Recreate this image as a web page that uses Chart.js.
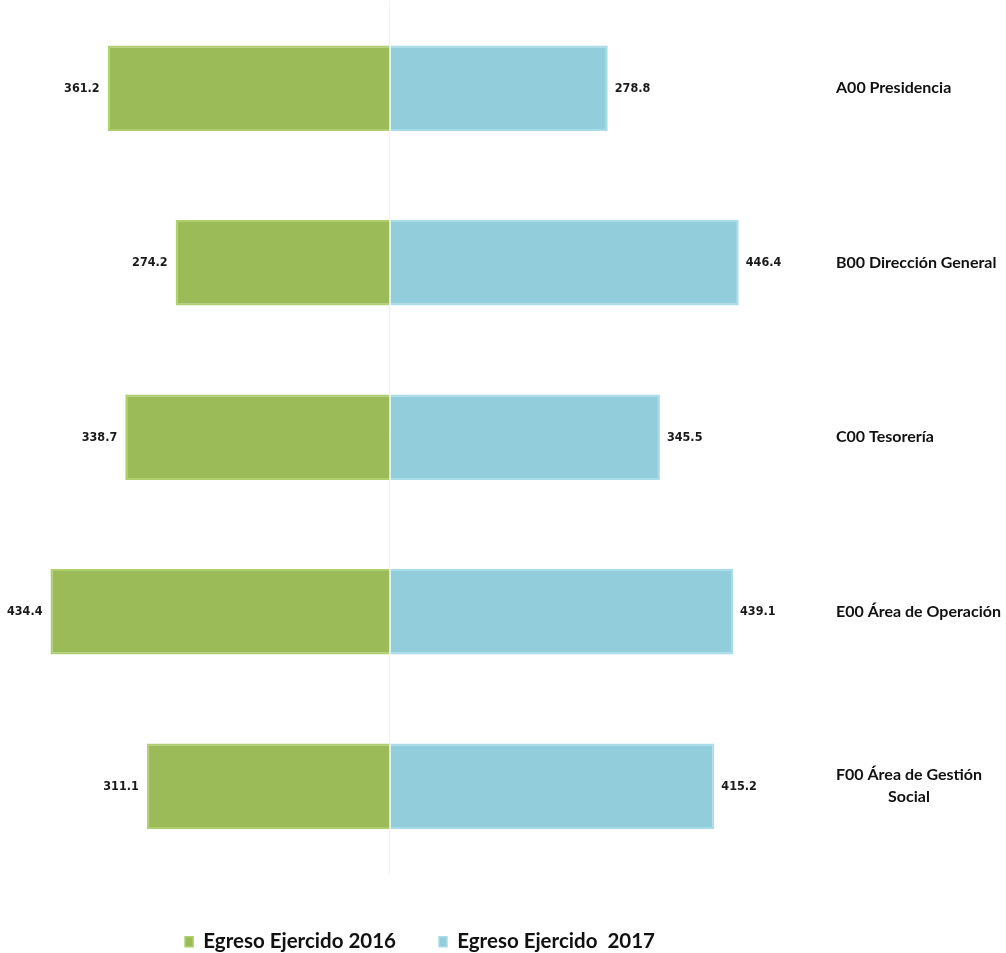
<!DOCTYPE html>
<html>
<head>
<meta charset="utf-8">
<script src="https://cdn.jsdelivr.net/npm/chart.js@4"></script>
<style>
  html, body { margin: 0; padding: 0; background: #ffffff; }
  #wrap { width: 1006px; height: 953px; position: relative; }
</style>
</head>
<body>
<div id="wrap"><canvas id="c" width="1006" height="953"></canvas></div>
<script>
const categories = [
  ["A00 Presidencia"],
  ["B00 Dirección General"],
  ["C00 Tesorería"],
  ["E00 Área de Operación"],
  ["F00 Área de Gestión", "Social"]
];
const seriesNames = ["Egreso Ejercido 2016", "Egreso Ejercido  2017"];
const egreso2016 = [361.2, 274.2, 338.7, 434.4, 311.1];
const egreso2017 = [278.8, 446.4, 345.5, 439.1, 415.2];

const GREEN = '#9BBB59';
const BLUE = '#92CDDC';

const valueLabels = {
  id: 'valueLabels',
  afterDatasetsDraw(chart) {
    const ctx = chart.ctx;
    ctx.save();
    ctx.font = "bold 12.5px 'Arial Narrow', 'Liberation Sans Narrow', 'DejaVu Sans Condensed', sans-serif";
    ctx.fillStyle = '#1a1a1a';
    ctx.textBaseline = 'middle';
    chart.data.datasets.forEach((ds, di) => {
      const meta = chart.getDatasetMeta(di);
      meta.data.forEach((bar, i) => {
        const v = Math.abs(ds.data[i]).toFixed(1);
        if (ds.data[i] < 0) {
          ctx.textAlign = 'right';
          ctx.fillText(v, bar.x - 8, bar.y);
        } else {
          ctx.textAlign = 'left';
          ctx.fillText(v, bar.x + 7, bar.y);
        }
      });
    });
    ctx.restore();
  }
};

const categoryLabels = {
  id: 'categoryLabels',
  afterDraw(chart) {
    const ctx = chart.ctx;
    const y = chart.scales.y;
    ctx.save();
    ctx.font = "bold 16px Lato, 'Open Sans', sans-serif";
    ctx.fillStyle = '#111111';
    ctx.textBaseline = 'middle';
    ctx.textAlign = 'center';
    const left = 836;
    const lineH = 22;
    chart.data.labels.forEach((lab, i) => {
      const lines = Array.isArray(lab) ? lab : [lab];
      const widest = Math.max(...lines.map(l => ctx.measureText(l).width));
      const cy = y.getPixelForValue(i);
      const start = cy - (lines.length - 1) * lineH / 2;
      lines.forEach((l, k) => {
        ctx.fillText(l, left + widest / 2, start + k * lineH);
      });
    });
    ctx.restore();
  }
};

new Chart(document.getElementById('c'), {
  type: 'bar',
  data: {
    labels: categories,
    datasets: [
      {
        label: seriesNames[0],
        data: egreso2016.map(v => -v),
        backgroundColor: GREEN,
        borderColor: '#AFCF6C',
        borderWidth: {top: 2, bottom: 2, left: 2, right: 0},
        borderSkipped: false,
        barPercentage: 0.49,
        categoryPercentage: 1
      },
      {
        label: seriesNames[1],
        data: egreso2017,
        backgroundColor: BLUE,
        borderColor: '#A9DCE9',
        borderWidth: {top: 2, bottom: 2, left: 0, right: 2},
        borderSkipped: false,
        barPercentage: 0.49,
        categoryPercentage: 1
      }
    ]
  },
  options: {
    indexAxis: 'y',
    responsive: false,
    animation: false,
    layout: { padding: { top: 1, left: 0, right: 166, bottom: -9 } },
    scales: {
      x: {
        stacked: true,
        min: -499,
        max: 576,
        display: true,
        afterFit: (s) => { s.height = 15; },
        ticks: { display: false, stepSize: 100 },
        border: { display: false },
        grid: {
          drawTicks: false,
          color: (c) => (c.tick && c.tick.value === 0) ? '#f2f2f2' : 'rgba(0,0,0,0)'
        }
      },
      y: {
        stacked: true,
        display: false
      }
    },
    plugins: {
      legend: {
        position: 'bottom',
        labels: {
          boxWidth: 8,
          boxHeight: 10,
          padding: 43,
          color: '#111111',
          font: { family: "Lato, 'Open Sans', sans-serif", size: 20.5, weight: 'bold' }
        }
      },
      tooltip: { enabled: false }
    }
  },
  plugins: [valueLabels, categoryLabels]
});
</script>
</body>
</html>
